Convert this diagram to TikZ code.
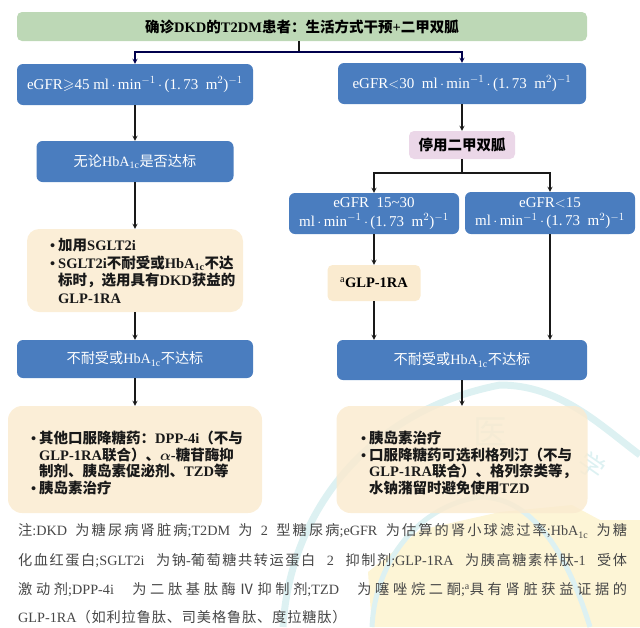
\documentclass[tikz,border=0pt]{standalone}
\usepackage{amsmath}
\usepackage{amssymb}
\usepackage{xcolor}
\usepackage{fontspec}
\setmainfont{Liberation Serif}
\newfontfamily\cjk{Noto Sans CJK SC}
\usetikzlibrary{arrows, positioning}
\definecolor{boxblue}{HTML}{4A7DBF}
\definecolor{boxgreen}{HTML}{BDD8B6}
\definecolor{boxcream}{HTML}{FAEBD0}
\definecolor{boxpink}{HTML}{EBD7E8}
\definecolor{marktea}{HTML}{DDF1F2}
\definecolor{markyel}{HTML}{FDF5D6}
\newcommand{\zh}[1]{{\cjk #1}}
\newcommand{\zhs}[2]{{\cjk\addfontfeature{LetterSpace=#1}#2}}
\newcommand{\hba}{HbA\textsubscript{1c}}
\newcommand{\unitline}{\fontsize{15}{17.5}\selectfont ml$\,\cdot\,$min$^{-1}\,\cdot\,$(1.\,73\ \ m$^{2}$)$^{-1}$}
\newcommand{\bul}{\makebox[8pt][l]{\textbullet}}
\newcommand{\ind}{\hspace*{8pt}}
\tikzset{
    bluebox/.style={rectangle, rounded corners=6pt, fill=boxblue, text=white, align=center, inner sep=0pt, font=\fontsize{14.2}{17.5}\selectfont},
    creambox/.style={rectangle, rounded corners=#1, fill=boxcream, fill opacity=.85, inner sep=0pt},
    creamtext/.style={anchor=west, align=left, inner sep=0pt, text=black!90, font=\bfseries\fontsize{14.5}{16.8}\selectfont},
    notetext/.style={anchor=west, inner sep=0pt, text=black!72, font=\fontsize{14.2}{15}\selectfont},
    link/.style={->, >=stealth, line width=1.2pt, black!90}
}
\begin{document}
\begin{tikzpicture}[x=1pt, y=-1pt]
    \useasboundingbox (0,0) rectangle (640,627);

    % Faint watermark behind the lower right part
    \fill[markyel] (372,627) -- (368,572) -- (420,530) -- (500,512) -- (572,505) -- (600,520) -- (640,520) -- (640,627) -- cycle;
    \draw[marktea, line width=7pt] (283,627) .. controls (290,510) and (370,410) .. (500,385) .. controls (560,385) and (600,425) .. (640,455);
    \draw[marktea, line width=5pt] (372,627) .. controls (375,560) and (420,505) .. (480,497) .. controls (520,497) and (560,530) .. (590,627);
    \node[text=marktea, font=\fontsize{34}{34}\selectfont] (markyi) at (490,432) {\zh{医}};
    \node[text=marktea, rotate=-35, font=\fontsize{26}{26}\selectfont] (markxue) at (592,466) {\zh{学}};

    % Header
    \node[rectangle, rounded corners=5pt, fill=boxgreen, minimum width=570pt, minimum height=29pt, inner sep=0pt, font=\bfseries\fontsize{14.5}{15}\selectfont] (start) at (302,26.5) {\zh{确诊}DKD\zh{的}T2DM\zh{患者：生活方式干预}+\zh{二甲双胍}};

    % Left branch
    \node[bluebox, minimum width=236pt, minimum height=41pt] (high) at (135,84.5) {\fontsize{15}{17.5}\selectfont eGFR$\geqslant$45 \unitline};
    \node[bluebox, minimum width=197pt, minimum height=41pt] (any) at (135,161.5) {\zh{无论}\hba\zh{是否达标}};
    \node[creambox=12pt, minimum width=216pt, minimum height=83pt] (add) at (135,270.5) {};
    \node[creamtext] (addtext) at (50,271) {\bul\zh{加用}SGLT2i\\[.8pt]\bul SGLT2i\zh{不耐受或}\hba\zh{不达}\\[.8pt]\ind\zh{标时，选用具有}DKD\zh{获益的}\\[.8pt]\ind GLP-1RA};
    \node[bluebox, minimum width=236pt, minimum height=38pt] (failleft) at (135,359) {\zh{不耐受或}\hba\zh{不达标}};
    \node[creambox=14pt, minimum width=254pt, minimum height=107pt] (otherdrugs) at (135,459.5) {};
    \node[creamtext] (otherdrugstext) at (31,463) {\bul\zh{其他口服降糖药：}DPP-4i\zh{（不与}\\\ind GLP-1RA\zh{联合）、}$\boldsymbol{\alpha}$-\zh{糖苷酶抑}\\\ind\zh{制剂、胰岛素促泌剂、}TZD\zh{等}\\\bul\zh{胰岛素治疗}};

    % Right branch
    \node[bluebox, minimum width=248pt, minimum height=41pt] (low) at (462,83.5) {\fontsize{15}{17.5}\selectfont eGFR$<$30 \ \unitline};
    \node[rectangle, rounded corners=5pt, fill=boxpink, minimum width=106pt, minimum height=28pt, inner sep=0pt, font=\bfseries\fontsize{14.5}{15}\selectfont] (stop) at (462,145) {\zh{停用二甲双胍}};
    \node[bluebox, minimum width=170pt, minimum height=41pt] (mid) at (374,213.5) {\fontsize{15}{17.5}\selectfont eGFR\ \ 15\textasciitilde30\\[1pt]\unitline};
    \node[bluebox, minimum width=170pt, minimum height=42pt] (lowest) at (550,213) {\fontsize{15}{17.5}\selectfont eGFR$<$15\\[1pt]\unitline};
    \node[rectangle, rounded corners=5pt, fill=boxcream, minimum width=93pt, minimum height=36pt, inner sep=0pt, font=\bfseries\fontsize{14.5}{15}\selectfont] (glp) at (374,283) {\textsuperscript{\mdseries a}GLP-1RA};
    \node[bluebox, minimum width=250pt, minimum height=40pt] (failright) at (462,360) {\zh{不耐受或}\hba\zh{不达标}};
    \node[creambox=14pt, minimum width=251pt, minimum height=107pt] (insulin) at (462,459.5) {};
    \node[creamtext] (insulintext) at (361,463) {\bul\zh{胰岛素治疗}\\\bul\zh{口服降糖药可选利格列汀（不与}\\\ind GLP-1RA\zh{联合）、格列奈类等，}\\\ind\zh{水钠潴留时避免使用}TZD};

    % Branch points
    \coordinate (forktop) at (299,52);
    \coordinate (forkmid) at (462,173);

    % Connectors
    \draw[line width=1.2pt, black!90] (start.south -| forktop) -- (forktop);
    \draw[link, draw=black!70!blue] (forktop) -| (high.north);
    \draw[link, draw=black!70!blue] (forktop) -| (low.north);
    \draw[line width=1.2pt, black!90] (stop.south) -- (forkmid);
    \draw[link] (forkmid) -| (mid.north);
    \draw[link] (forkmid) -| (lowest.north);
    \foreach \from/\to in {high/any, any/add, add/failleft, failleft/otherdrugs, low/stop, failright/insulin} {
        \draw[link] (\from.south) -- (\to.north);
    }
    \draw[link] (mid.south) -- (glp.north);
    \draw[link] (glp.south) -- (glp.south |- failright.north);
    \draw[link] (lowest.south) -- (lowest.south |- failright.north);

    % Note under the chart
    \node[notetext] (noteone) at (18,531) {\makebox[609pt][s]{\zhs{15}{注}:DKD \zhs{15}{为糖尿病肾脏病};T2DM \zhs{15}{为} 2 \zhs{15}{型糖尿病};eGFR \zhs{15}{为估算的肾小球滤过率};\hba\ \zhs{15}{为糖}}};
    \node[notetext] (notetwo) at (18,561) {\makebox[609pt][s]{\zhs{11}{化血红蛋白};SGLT2i \zhs{11}{为钠}-\zhs{11}{葡萄糖共转运蛋白} 2 \zhs{11}{抑制剂};GLP-1RA \zhs{11}{为胰高糖素样肽}-1 \zhs{11}{受体}}};
    \node[notetext] (notethree) at (18,590) {\makebox[609pt][s]{\zhs{26}{激动剂};DPP-4i \zhs{26}{为二肽基肽酶Ⅳ抑制剂};TZD \zhs{26}{为噻唑烷二酮};\textsuperscript{a}\zhs{26}{具有肾脏获益证据的}}};
    \node[notetext] (notefour) at (18,617) {GLP-1RA\zhs{6}{（如利拉鲁肽、司美格鲁肽、度拉糖肽）}};
\end{tikzpicture}
\end{document}
